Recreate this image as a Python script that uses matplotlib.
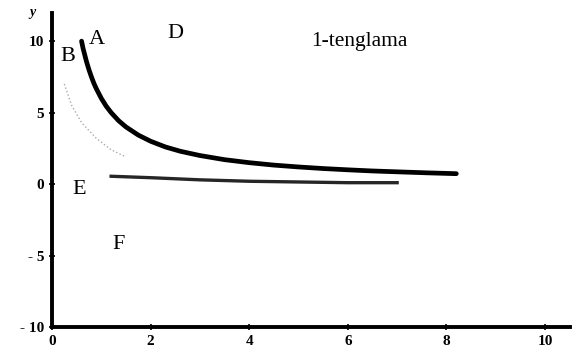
import numpy as np
import matplotlib.pyplot as plt

# main curve
curve_x = [0.6, 0.63, 0.66, 0.7, 0.75, 0.8, 0.85, 0.9, 1.0, 1.1, 1.2, 1.35, 1.5,
           1.75, 2.0, 2.3, 2.6, 3.0, 3.5, 4.0, 4.5, 5.0, 5.5, 6.0, 6.5, 7.0, 7.6, 8.2]
curve_y = [10.0, 9.5, 9.1, 8.57, 8.0, 7.5, 7.05, 6.67, 6.0, 5.45, 5.0, 4.44, 4.0,
           3.43, 3.0, 2.6, 2.3, 2.0, 1.71, 1.5, 1.33, 1.2, 1.09, 1.0, 0.92, 0.86, 0.79, 0.73]

# faint lower line (near asymptote)
low_x = [1.2, 2.0, 3.0, 4.0, 5.0, 6.0, 7.0]
low_y = [0.55, 0.45, 0.3, 0.2, 0.15, 0.1, 0.1]

# faint dotted trace left of the curve
dot_x = [0.25, 0.4, 0.6, 0.9, 1.2, 1.5]
dot_y = [7.0, 5.5, 4.3, 3.2, 2.4, 1.9]

xticks = [0, 2, 4, 6, 8, 10]
yticks = [-10, -5, 0, 5, 10]
ytick_labels = ["- 10", "- 5", "0", "5", "10"]

labels = [("A", 0.75, 10.1), ("B", 0.18, 8.9), ("D", 2.35, 10.5),
          ("E", 0.42, -0.4), ("F", 1.22, -4.2)]

plt.rcParams['font.family'] = ['Liberation Serif', 'DejaVu Serif']

fig = plt.figure(figsize=(5.84, 3.48), dpi=100)
ax = fig.add_axes([0.089, 0.06, 0.895, 0.904])

ax.plot(curve_x, curve_y, color='black', lw=3.4, solid_capstyle='round')
ax.plot(low_x, low_y, color='black', lw=2.4, alpha=0.85)
ax.plot(dot_x, dot_y, color='#aaaaaa', lw=1, ls=':')

for t, x, y in labels:
    ax.text(x, y, t, fontsize=16, ha='left', va='center')
ax.text(5.25, 10.0, "1-tenglama", fontsize=15.5, ha='left', va='center')
ax.text(-0.4, 12.0, "y", fontsize=10, style='italic', fontweight='bold',
        ha='center', va='center')

ax.set_xlim(0, 10.6)
ax.set_ylim(-10, 12)
ax.set_xticks(xticks)
ax.set_yticks(yticks)
ax.set_yticklabels(ytick_labels)
for s in ['top', 'right']:
    ax.spines[s].set_visible(False)
ax.spines['left'].set_linewidth(2.8)
ax.spines['bottom'].set_linewidth(2.8)
ax.spines['bottom'].set_bounds(0, 10.5)
ax.tick_params(direction='inout', length=5, width=1.2, labelsize=11, pad=3)
for lb in ax.get_xticklabels() + ax.get_yticklabels():
    lb.set_fontweight('bold')

fig.savefig("out.png", dpi=100)
